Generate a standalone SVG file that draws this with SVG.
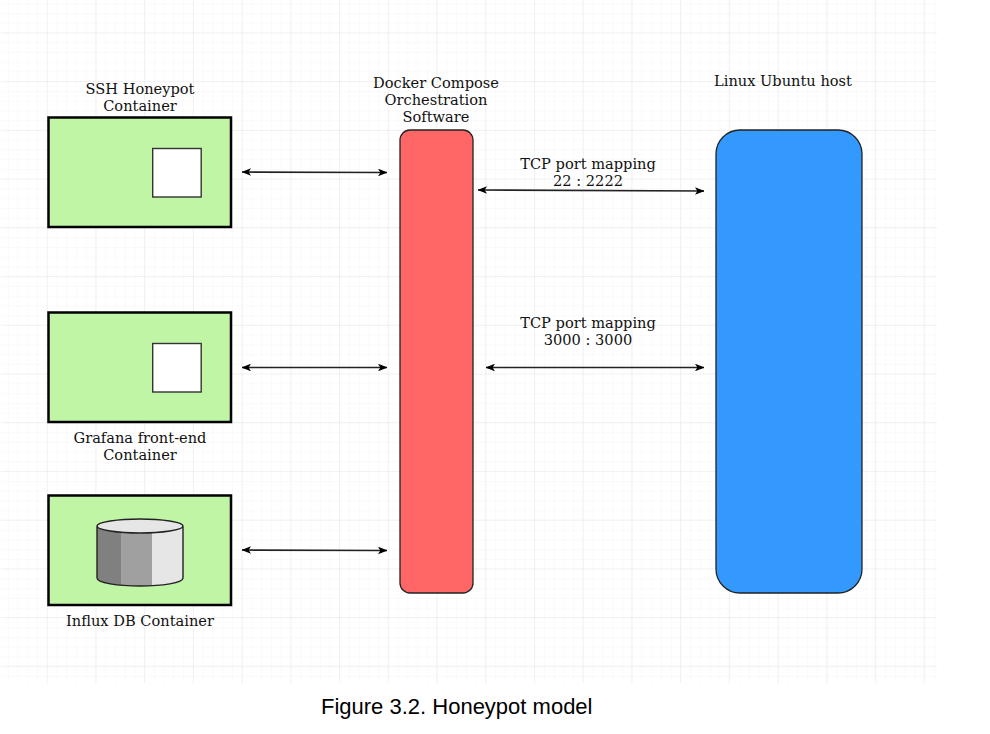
<svg xmlns="http://www.w3.org/2000/svg" width="990" height="734" viewBox="0 0 990 734">
<defs>
<pattern id="minor" patternUnits="userSpaceOnUse" x="-2" y="3.2" width="9.75" height="9.75"><path d="M9.75 0H0V9.75" fill="none" stroke="#f5f5f5" stroke-width="1"/></pattern>
<pattern id="major" patternUnits="userSpaceOnUse" x="46.7" y="32.4" width="48.72" height="48.72"><path d="M48.72 0H0V48.72" fill="none" stroke="#e8e8e8" stroke-width="1"/></pattern>
<marker id="ah" viewBox="0 0 10 8" markerWidth="9.5" markerHeight="7.6" refX="9.5" refY="4" orient="auto-start-reverse" markerUnits="userSpaceOnUse"><path d="M0 0L10 4L0 8L2.5 4Z" fill="#000"/></marker>
<style>
.lbl{font-family:"DejaVu Serif",serif;font-size:14.6px;fill:#111;text-anchor:middle}
.box{fill:#c0f5a6;stroke:#000;stroke-width:2.5}
.sq{fill:#fff;stroke:#333;stroke-width:1.4}
.c{fill:none;stroke:#222;stroke-width:1.7;marker-start:url(#ah);marker-end:url(#ah)}
</style>
</defs>
<rect width="990" height="734" fill="#fff"/>
<rect x="1" y="0" width="936" height="683" fill="url(#minor)"/>
<rect x="1" y="0" width="936" height="683" fill="url(#major)"/>
<g id="ssh"><rect class="box" x="48.5" y="117.5" width="182.5" height="109.5"/><rect class="sq" x="152.7" y="148.5" width="48.5" height="48.5"/>
<text class="lbl"><tspan x="140" y="94">SSH Honeypot</tspan><tspan x="140" y="111">Container</tspan></text></g>
<g id="grafana"><rect class="box" x="48.5" y="312.5" width="182.5" height="109.5"/><rect class="sq" x="152.7" y="343.5" width="48.5" height="48.5"/>
<text class="lbl"><tspan x="140" y="443">Grafana front-end</tspan><tspan x="140" y="460">Container</tspan></text></g>
<g id="influx"><rect class="box" x="48.5" y="495.5" width="182.5" height="109.5"/>
<path d="M97 526V578C97 583 118 586 140 586V526Z" fill="#808080"/>
<rect x="121" y="527" width="31" height="59" fill="#a0a0a0"/>
<path d="M152 527H183V578C183 583 165 586 152 586Z" fill="#e6e6e6"/>
<ellipse cx="140" cy="526" rx="43" ry="7" fill="#e6e6e6"/>
<path d="M97 526C97 522 118 519 140 519S183 522 183 526V578C183 583 162 586 140 586S97 583 97 578ZM97 526C97 530 118 533 140 533S183 530 183 526" fill="none" stroke="#222" stroke-width="1.4"/>
<text class="lbl" x="140" y="626">Influx DB Container</text></g>
<g id="docker"><rect x="400" y="130" width="73" height="463" rx="10" fill="#ff6666" stroke="#222" stroke-width="1.3"/>
<text class="lbl"><tspan x="436" y="88">Docker Compose</tspan><tspan x="436" y="105">Orchestration</tspan><tspan x="436" y="122">Software</tspan></text></g>
<g id="ubuntu"><rect x="716" y="130" width="146" height="463" rx="24" fill="#3399ff" stroke="#222" stroke-width="1.3"/>
<text class="lbl" x="783" y="86">Linux Ubuntu host</text></g>
<g id="connectors">
<line class="c" x1="242" y1="172" x2="387" y2="172.5"/>
<line class="c" x1="242" y1="367.5" x2="387" y2="367.5"/>
<line class="c" x1="242" y1="550" x2="387" y2="550.5"/>
<line class="c" x1="478" y1="190" x2="704" y2="191"/>
<line class="c" x1="486" y1="367.5" x2="704" y2="367.5"/>
</g>
<g id="labels"><text class="lbl"><tspan x="588" y="169">TCP port mapping</tspan><tspan x="588" y="186">22 : 2222</tspan></text>
<text class="lbl"><tspan x="588" y="328">TCP port mapping</tspan><tspan x="588" y="345">3000 : 3000</tspan></text></g>
<text x="321" y="714" font-family="'Liberation Sans',Arial,sans-serif" font-size="22" fill="#000">Figure 3.2. Honeypot model</text>
</svg>
